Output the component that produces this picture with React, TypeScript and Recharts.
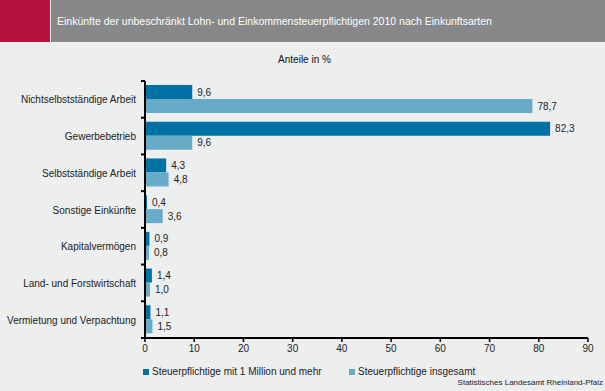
import { Bar, BarChart, LabelList, XAxis, YAxis } from 'recharts';

const categories = [
  'Nichtselbstständige Arbeit',
  'Gewerbebetrieb',
  'Selbstständige Arbeit',
  'Sonstige Einkünfte',
  'Kapitalvermögen',
  'Land- und Forstwirtschaft',
  'Vermietung und Verpachtung',
];
const millionaires = [9.6, 82.3, 4.3, 0.4, 0.9, 1.4, 1.1];
const allTaxpayers = [78.7, 9.6, 4.8, 3.6, 0.8, 1.0, 1.5];
const xTicks = [0, 10, 20, 30, 40, 50, 60, 70, 80, 90];

const seriesNames = ['Steuerpflichtige mit 1 Million und mehr', 'Steuerpflichtige insgesamt'];
const DARK = '#0071a3';
const LIGHT = '#68abc9';
const FONT = '"Liberation Sans", Arial, sans-serif';

const data = categories.map((name, i) => ({
  name,
  million: millionaires[i],
  total: allTaxpayers[i],
}));

const fmt = (v: unknown) => String(Number(v).toFixed(1)).replace('.', ',');

function CategoryTick(props: any) {
  const { x, y, payload, index } = props;
  const half = payload?.offset ?? 18.4;
  const ax = x + 9;
  return (
    <g>
      <line x1={ax - 4} x2={ax} y1={y - half} y2={y - half} stroke="#000" strokeWidth={2} />
      {index === categories.length - 1 && (
        <line x1={ax - 4} x2={ax} y1={y + half} y2={y + half} stroke="#000" strokeWidth={2} />
      )}
      <text x={x} y={y} dy={4} textAnchor="end" fontSize={10} fill="#222" fontFamily={FONT}>
        {payload.value}
      </text>
    </g>
  );
}

export default function App() {
  return (
    <div
      style={{
        position: 'relative',
        width: 605,
        height: 391,
        background: '#edeeee',
        fontFamily: FONT,
        overflow: 'hidden',
      }}
    >
      <style>{'body{margin:0}'}</style>
      <div style={{ position: 'absolute', left: 0, top: 0, width: 50, height: 42, background: '#b5123e' }} />
      <div
        style={{
          position: 'absolute',
          left: 51,
          top: 0,
          width: 554,
          height: 42,
          background: '#87888a',
          color: '#fff',
          fontSize: 10.5,
          lineHeight: '42px',
          paddingLeft: 6,
          boxSizing: 'border-box',
          whiteSpace: 'nowrap',
        }}
      >
        Einkünfte der unbeschränkt Lohn- und Einkommensteuerpflichtigen 2010 nach Einkunftsarten
      </div>
      <div
        style={{
          position: 'absolute',
          left: 0,
          width: 605,
          top: 54,
          textAlign: 'center',
          fontSize: 10,
          color: '#111',
          paddingLeft: 2,
        }}
      >
        Anteile in %
      </div>

      <div style={{ position: 'absolute', left: 0, top: 0 }}>
        <BarChart
          width={605}
          height={391}
          data={data}
          layout="vertical"
          margin={{ top: 81, right: 17, bottom: 33, left: 5 }}
          barGap={0}
          barSize={14}
        >
          <XAxis
            type="number"
            domain={[0, 90]}
            ticks={xTicks}
            height={20}
            axisLine={{ stroke: '#000', strokeWidth: 2 }}
            tickLine={{ stroke: '#000', strokeWidth: 1.5 }}
            tickSize={4}
            tickMargin={3}
            tick={{ fontSize: 10, fill: '#222', fontFamily: FONT }}
            interval={0}
          />
          <YAxis
            type="category"
            dataKey="name"
            width={140}
            axisLine={{ stroke: '#000', strokeWidth: 2 }}
            tickLine={false}
            tickSize={0}
            tickMargin={9}
            tick={<CategoryTick />}
            interval={0}
          />
          <Bar dataKey="million" fill={DARK} isAnimationActive={false}>
            <LabelList
              dataKey="million"
              position="right"
              offset={5}
              formatter={fmt}
              style={{ fontSize: 10, fill: '#222', fontFamily: FONT }}
            />
          </Bar>
          <Bar dataKey="total" fill={LIGHT} isAnimationActive={false}>
            <LabelList
              dataKey="total"
              position="right"
              offset={5}
              formatter={fmt}
              style={{ fontSize: 10, fill: '#222', fontFamily: FONT }}
            />
          </Bar>
        </BarChart>
      </div>

      <div
        style={{
          position: 'absolute',
          top: 366,
          left: 143,
          display: 'flex',
          fontSize: 10,
          color: '#222',
          whiteSpace: 'nowrap',
        }}
      >
        {seriesNames.map((n, i) => (
          <div key={n} style={{ display: 'flex', alignItems: 'center', width: i === 0 ? 206 : undefined }}>
            <span
              style={{ width: 6, height: 6, background: i === 0 ? DARK : LIGHT, marginRight: 3, display: 'inline-block' }}
            />
            {n}
          </div>
        ))}
      </div>
      <div
        style={{
          position: 'absolute',
          right: 2,
          top: 378,
          fontSize: 8,
          color: '#222',
          whiteSpace: 'nowrap',
        }}
      >
        Statistisches Landesamt Rheinland-Pfalz
      </div>
    </div>
  );
}
